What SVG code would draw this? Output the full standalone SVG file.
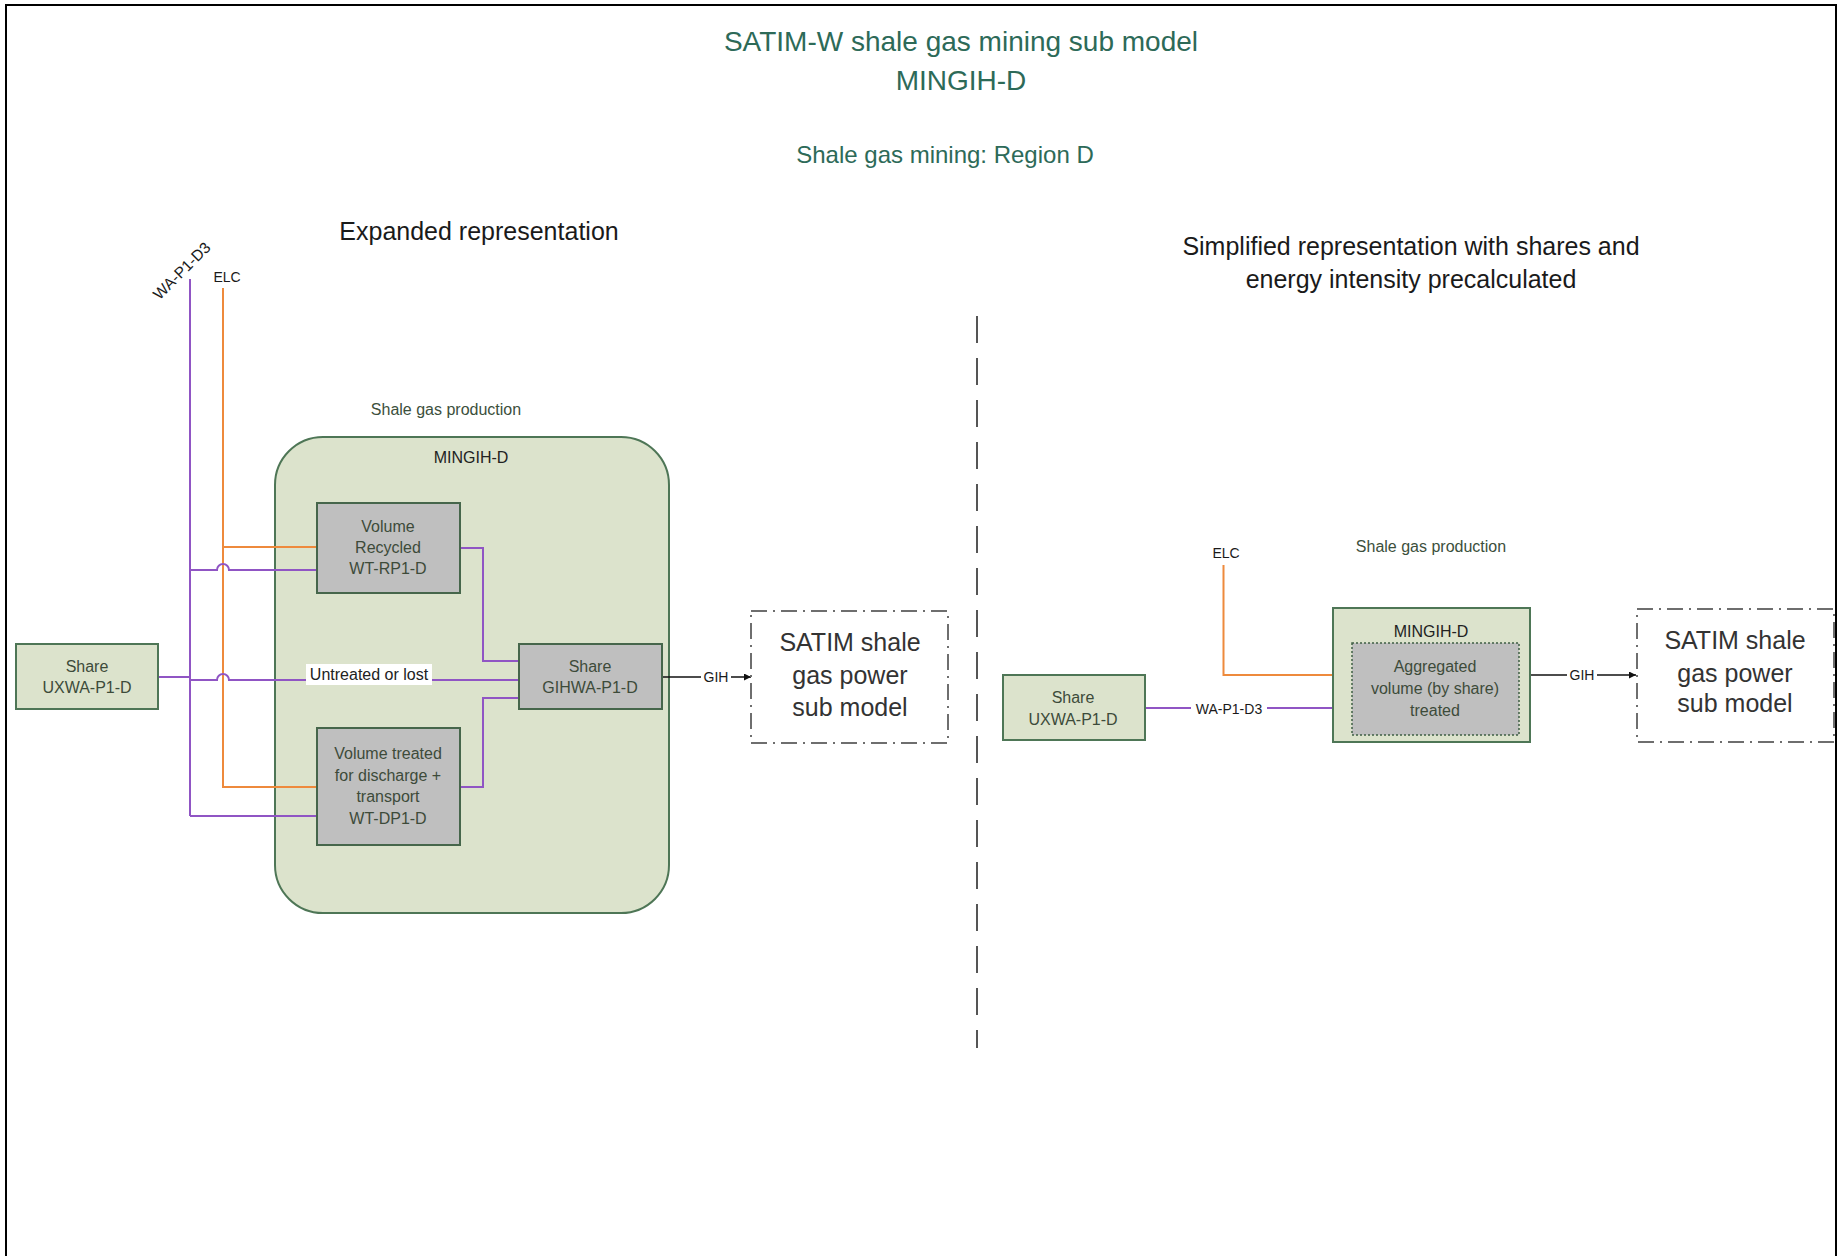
<svg xmlns="http://www.w3.org/2000/svg" width="1838" height="1256" viewBox="0 0 1838 1256">
<defs>
<style>
text{font-family:"Liberation Sans",Arial,sans-serif;text-anchor:middle}
.title{fill:#2d6a58;font-size:28px}
.sub{fill:#2d6a58;font-size:24px}
.head{fill:#1a1a1a;font-size:25px}
.small{fill:#3c4f3c;font-size:16px}
.lbl{fill:#1a1a1a;font-size:14px}
.box{fill:#bfbfbf;stroke:#46664b;stroke-width:2}
.gbox{fill:#dce3cc;stroke:#4e7656;stroke-width:2}
.bt{fill:#3d4b3a;font-size:16px}
.dk{fill:#222;font-size:16px}
.ext{fill:none;stroke:#6e6e6e;stroke-width:2;stroke-dasharray:16 6 2 6}
.extt{fill:#333;font-size:25px}
.pur{fill:none;stroke:#9055c4;stroke-width:2}
.ora{fill:none;stroke:#ee8a3c;stroke-width:2}
.blk{fill:none;stroke:#111;stroke-width:1.6}
</style>
<marker id="arr" viewBox="0 0 10 10" refX="10" refY="5" markerWidth="7" markerHeight="7" markerUnits="userSpaceOnUse" orient="auto">
<path d="M0,0 L10,5 L0,10 z" fill="#111"/>
</marker>
</defs>
<rect x="0" y="0" width="1838" height="1256" fill="#fff"/>
<path d="M6,1256 V5 H1836 V1256" fill="none" stroke="#000" stroke-width="2"/>

<g id="titles">
<text class="title" x="961" y="51">SATIM-W shale gas mining sub model</text>
<text class="title" x="961" y="90">MINGIH-D</text>
<text class="sub" x="945" y="163">Shale gas mining: Region D</text>
<text class="head" x="479" y="240">Expanded representation</text>
<text class="head" x="1411" y="255">Simplified representation with shares and</text>
<text class="head" x="1411" y="288">energy intensity precalculated</text>
</g>

<g id="divider">
<line x1="977" y1="316" x2="977" y2="1048" stroke="#555" stroke-width="2" stroke-dasharray="27 15"/>
</g>

<g id="shale-production-expanded">
<text class="small" x="446" y="415">Shale gas production</text>
<rect x="275" y="437" width="394" height="476" rx="48" ry="48" class="gbox"/>
<text class="dk" x="471" y="463">MINGIH-D</text>
</g>

<g id="connectors">
<path class="pur" d="M190,279 V816"/>
<path class="ora" d="M223,288 V787 H317"/>
<path class="ora" d="M223,547 H317"/>
<path class="pur" d="M158,677 H190"/>
<path class="pur" d="M190,570 H217 A6,6 0 0 1 229,570 H317"/>
<path class="pur" d="M190,680 H217 A6,6 0 0 1 229,680 H519"/>
<path class="pur" d="M190,816 H317"/>
<path class="pur" d="M460,548 H483 V661 H519"/>
<path class="pur" d="M460,787 H483 V698 H519"/>
<path class="blk" d="M662,677 H751" marker-end="url(#arr)"/>
<path class="ora" d="M1223.5,565 V675 H1333"/>
<path class="pur" d="M1145,708 H1333"/>
<path class="blk" d="M1530,675 H1636" marker-end="url(#arr)"/>
<text class="lbl" x="182" y="276" style="font-size:15.5px" transform="rotate(-45 182 271)">WA-P1-D3</text>
<text class="lbl" x="227" y="282">ELC</text>
<rect x="306" y="664" width="126" height="21" fill="#fff"/>
<text class="dk" x="369" y="680">Untreated or lost</text>
<rect x="701" y="668" width="30" height="18" fill="#fff"/>
<text class="lbl" x="716" y="682">GIH</text>
<text class="lbl" x="1226" y="558">ELC</text>
<rect x="1191" y="700" width="76" height="18" fill="#fff"/>
<text class="lbl" x="1229" y="714">WA-P1-D3</text>
<rect x="1567" y="666" width="30" height="18" fill="#fff"/>
<text class="lbl" x="1582" y="680">GIH</text>
</g>

<g id="uxwa-left">
<rect x="16" y="644" width="142" height="65" class="gbox"/>
<text class="bt" x="87" y="672">Share</text>
<text class="bt" x="87" y="693">UXWA-P1-D</text>
</g>

<g id="volume-recycled">
<rect x="317" y="503" width="143" height="90" class="box"/>
<text class="bt" x="388" y="532">Volume</text>
<text class="bt" x="388" y="553">Recycled</text>
<text class="bt" x="388" y="574">WT-RP1-D</text>
</g>

<g id="volume-treated">
<rect x="317" y="728" width="143" height="117" class="box"/>
<text class="bt" x="388" y="759">Volume treated</text>
<text class="bt" x="388" y="781">for discharge +</text>
<text class="bt" x="388" y="802">transport</text>
<text class="bt" x="388" y="824">WT-DP1-D</text>
</g>

<g id="gihwa">
<rect x="519" y="644" width="143" height="65" class="box"/>
<text class="bt" x="590" y="672">Share</text>
<text class="bt" x="590" y="693">GIHWA-P1-D</text>
</g>

<g id="satim-left">
<rect x="751" y="611" width="197" height="132" class="ext"/>
<text class="extt" x="850" y="651">SATIM shale</text>
<text class="extt" x="850" y="684">gas power</text>
<text class="extt" x="850" y="716">sub model</text>
</g>

<g id="uxwa-right">
<rect x="1003" y="675" width="142" height="65" class="gbox"/>
<text class="bt" x="1073" y="703">Share</text>
<text class="bt" x="1073" y="725">UXWA-P1-D</text>
</g>

<g id="mingih-right">
<text class="small" x="1431" y="552">Shale gas production</text>
<rect x="1333" y="608" width="197" height="134" class="gbox"/>
<text class="dk" x="1431" y="637">MINGIH-D</text>
<rect x="1352" y="643" width="167" height="92" fill="#bfbfbf" stroke="#3f5f44" stroke-width="1.5" stroke-dasharray="2 2"/>
<text class="bt" x="1435" y="672">Aggregated</text>
<text class="bt" x="1435" y="694">volume (by share)</text>
<text class="bt" x="1435" y="716">treated</text>
</g>

<g id="satim-right">
<rect x="1637" y="609" width="197" height="133" class="ext"/>
<text class="extt" x="1735" y="649">SATIM shale</text>
<text class="extt" x="1735" y="682">gas power</text>
<text class="extt" x="1735" y="712">sub model</text>
</g>
</svg>
